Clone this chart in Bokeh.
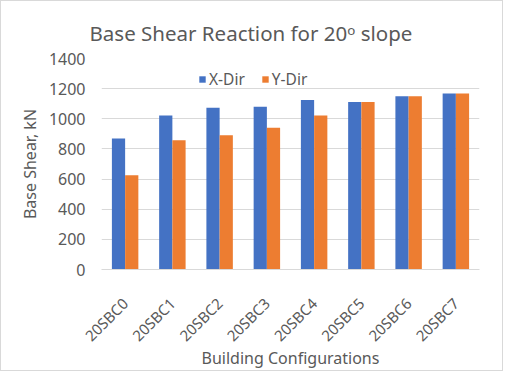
import math
from bokeh.plotting import figure
from bokeh.models import FactorRange, Range1d, FixedTicker, Legend, LegendItem, Title, ColumnDataSource
from bokeh.transform import dodge
from bokeh.embed import file_html
from bokeh.resources import INLINE

categories = ["20SBC0", "20SBC1", "20SBC2", "20SBC3", "20SBC4", "20SBC5", "20SBC6", "20SBC7"]
x_dir = [870, 1022, 1073, 1080, 1124, 1111, 1149, 1168]
y_dir = [625, 858, 890, 940, 1022, 1111, 1149, 1168]
y_ticks = [0, 200, 400, 600, 800, 1000, 1200, 1400]

FONT = "Noto Sans"
TXT = "#595959"
GRID = "#D9D9D9"

src = ColumnDataSource(dict(cat=categories, x=x_dir, y=y_dir))

p = figure(width=503, height=371, x_range=FactorRange(*categories),
           y_range=Range1d(0, 1400), output_backend="svg", toolbar_location=None,
           min_border_left=100, min_border_right=25, min_border_top=57, min_border_bottom=102)
p.title = None
p.add_layout(Title(text="Base Shear Reaction for 20ᵒ slope", align="left", offset=-12,
                   text_font=FONT, text_font_size="20.5px", text_color=TXT,
                   text_font_style="normal", standoff=23), "above")

rx = p.vbar(x=dodge("cat", -0.14, range=p.x_range), top="x", width=0.28, source=src,
            fill_color="#4472C4", line_color=None)
ry = p.vbar(x=dodge("cat", 0.14, range=p.x_range), top="y", width=0.28, source=src,
            fill_color="#ED7D31", line_color=None)

p.outline_line_color = None
p.xgrid.grid_line_color = None
p.ygrid.grid_line_color = GRID
p.ygrid.grid_line_width = 1

p.yaxis.ticker = FixedTicker(ticks=y_ticks)
p.yaxis.axis_line_color = None
p.yaxis.major_tick_line_color = None
p.yaxis.minor_tick_line_color = None
p.yaxis.major_tick_out = 0
p.yaxis.minor_tick_out = 0
p.yaxis.major_label_standoff = 16
p.yaxis.axis_label = "Base Shear, kN"
p.yaxis.axis_label_standoff = 5

p.xaxis.axis_line_color = GRID
p.xaxis.major_tick_line_color = None
p.xaxis.minor_tick_line_color = None
p.xaxis.major_tick_out = 0
p.xaxis.minor_tick_out = 0
p.xaxis.major_label_orientation = math.pi / 4
p.xaxis.major_label_standoff = 31
p.xaxis.axis_label = "Building Configurations"
p.xaxis.axis_label_standoff = -8

for ax in (p.xaxis[0], p.yaxis[0]):
    ax.major_label_text_font = FONT
    ax.major_label_text_color = TXT
    ax.axis_label_text_font = FONT
    ax.axis_label_text_font_size = "16px"
    ax.axis_label_text_font_style = "normal"
    ax.axis_label_text_color = TXT
p.yaxis.major_label_text_font_size = "16px"
p.xaxis.major_label_text_font_size = "15px"

legend = Legend(items=[LegendItem(label="X-Dir", renderers=[rx]),
                       LegendItem(label="Y-Dir", renderers=[ry])],
                orientation="horizontal", location=(97, 179),
                padding=0, margin=0, spacing=16, label_standoff=3,
                glyph_width=8, glyph_height=8, label_height=18,
                label_text_font=FONT, label_text_font_size="15.5px", label_text_color=TXT,
                background_fill_alpha=0, border_line_color=None)
p.add_layout(legend, "center")

p.styles = {"border": "1px solid #D9D9D9"}

open("out.html", "w").write(file_html(p, INLINE))
